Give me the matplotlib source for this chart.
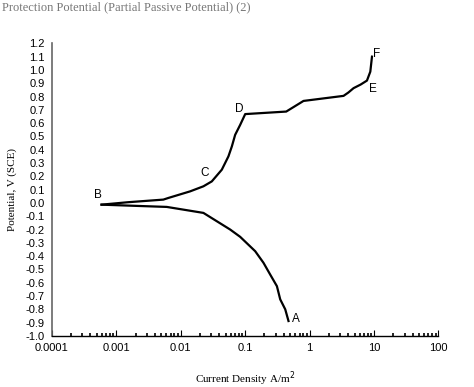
import matplotlib.pyplot as plt
from matplotlib.ticker import FixedLocator, FixedFormatter, NullFormatter, LogLocator

# cathodic branch A -> B, anodic branch B -> F  (current density A/m2, potential V SCE)
cath_i = [0.472, 0.42, 0.351, 0.312, 0.245, 0.193, 0.1436, 0.084, 0.0587,
          0.0226, 0.0061, 0.0020, 0.000594]
cath_v = [-0.888, -0.80, -0.725, -0.626, -0.538, -0.45, -0.363, -0.255, -0.20,
          -0.075, -0.03, -0.022, -0.013]
anod_i = [0.000594, 0.0015, 0.0054, 0.00647, 0.01406, 0.0226, 0.0305, 0.0436,
          0.0552, 0.0624, 0.0702, 0.084, 0.1005, 0.435, 0.807, 3.37, 4.0,
          4.82, 6.2, 7.78, 8.77, 9.31]
anod_v = [-0.013, 0.005, 0.025, 0.0375, 0.087, 0.125, 0.162, 0.25,
          0.35, 0.425, 0.512, 0.587, 0.668, 0.687, 0.767, 0.805, 0.83,
          0.863, 0.89, 0.92, 0.987, 1.10]

labels = ["A", "B", "C", "D", "E", "F"]
label_i = [0.62, 0.00052, 0.0235, 0.082, 9.6, 11.0]
label_v = [-0.87, 0.06, 0.225, 0.71, 0.86, 1.12]

xticks = [0.0001, 0.001, 0.01, 0.1, 1, 10, 100]
xlabels = ["0.0001", "0.001", "0.01", "0.1", "1", "10", "100"]
yticks = [round(-1.0 + 0.1 * k, 1) for k in range(23)]

fig = plt.figure(figsize=(4.74, 3.87), dpi=100)
ax = fig.add_axes([0.109, 0.132, 0.816, 0.756])

ax.plot(cath_i, cath_v, color="black", lw=1.6)
ax.plot(anod_i, anod_v, color="black", lw=1.6)

for t, xi, yv in zip(labels, label_i, label_v):
    ax.text(xi, yv, t, fontsize=8.5, family="Liberation Sans",
            ha="center", va="center")

ax.set_xscale("log")
ax.set_xlim(0.0001, 100)
ax.set_ylim(-1.0, 1.2)

ax.xaxis.set_major_locator(FixedLocator(xticks))
ax.xaxis.set_major_formatter(FixedFormatter(xlabels))
ax.xaxis.set_minor_locator(LogLocator(base=10, subs=range(2, 10), numticks=20))
ax.xaxis.set_minor_formatter(NullFormatter())
ax.tick_params(axis="x", which="major", direction="in", length=4, width=0.8,
               labelsize=8, pad=5)
ax.tick_params(axis="x", which="minor", direction="in", length=2.5, width=1.2)

ax.yaxis.set_major_locator(FixedLocator(yticks))
ax.yaxis.set_major_formatter(FixedFormatter(["%.1f" % v for v in yticks]))
ax.yaxis.set_minor_locator(FixedLocator([-1.0, -0.5, 0.0, 0.5, 1.0]))
ax.tick_params(axis="y", which="major", length=0, labelsize=8, pad=5)
ax.tick_params(axis="y", which="minor", direction="out", length=3.5,
               width=0.8, color="#666666")
for lab in ax.get_xticklabels() + ax.get_yticklabels():
    lab.set_family("Liberation Sans")

ax.spines["top"].set_visible(False)
ax.spines["right"].set_visible(False)
ax.spines["left"].set_color("#666666")
ax.spines["left"].set_linewidth(1.2)
ax.spines["bottom"].set_linewidth(1.0)

ax.set_xlabel("Current Density A/m$^2$", family="Liberation Serif",
              fontsize=8, labelpad=12)
ax.set_ylabel("Potential, V (SCE)", family="Liberation Serif", fontsize=8,
              labelpad=6)

fig.text(0.005, 0.997, "Protection Potential (Partial Passive Potential) (2)",
         family="Liberation Serif", fontsize=9, color="#777777",
         ha="left", va="top")

fig.savefig("out.png", dpi=100)
